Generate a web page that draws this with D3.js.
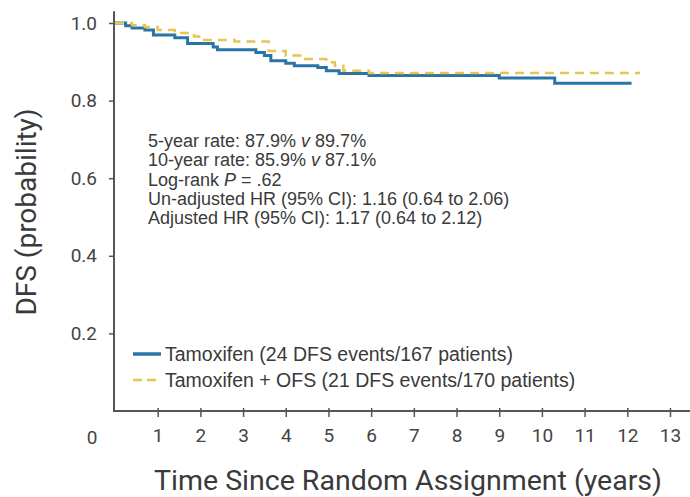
<!DOCTYPE html>
<html>
<head>
<meta charset="utf-8">
<script src="https://cdn.jsdelivr.net/npm/d3@7"></script>
<style>
  body { margin: 0; background: #fff; }
  svg { display: block; }
</style>
</head>
<body>
<svg id="chart" width="690" height="497"></svg>
<script>
// x axis ticks (years) and y axis ticks (probability)
const xTicks = [1, 2, 3, 4, 5, 6, 7, 8, 9, 10, 11, 12, 13];
const yTicks = [0.2, 0.4, 0.6, 0.8, 1.0];

// Tamoxifen step curve: time of each step and DFS after it
const tamTimes = [0, 0.25, 0.4, 0.7, 0.9, 1.4, 1.7, 2.3, 2.4, 3.3, 3.5, 3.65, 4.0, 4.2, 4.75, 4.95, 5.25, 5.95, 9.0, 10.3, 12.1];
const tamDFS   = [1.0, 0.993, 0.987, 0.982, 0.969, 0.962, 0.947, 0.938, 0.931, 0.924, 0.916, 0.903, 0.896, 0.890, 0.885, 0.877, 0.870, 0.865, 0.858, 0.845, 0.845];

// Tamoxifen + OFS step curve
const ofsTimes = [0, 0.4, 0.7, 1.0, 1.4, 1.85, 2.05, 2.8, 3.6, 4.0, 4.4, 4.95, 5.15, 5.35, 5.95, 12.3];
const ofsDFS   = [1.0, 0.994, 0.99, 0.982, 0.974, 0.965, 0.956, 0.952, 0.928, 0.916, 0.907, 0.899, 0.89, 0.877, 0.871, 0.871];

const statLines = [
  "5-year rate: 87.9% v 89.7%",
  "10-year rate: 85.9% v 87.1%",
  "Log-rank P = .62",
  "Un-adjusted HR (95% CI): 1.16 (0.64 to 2.06)",
  "Adjusted HR (95% CI): 1.17 (0.64 to 2.12)"
];
const legendLabels = [
  "Tamoxifen (24 DFS events/167 patients)",
  "Tamoxifen + OFS (21 DFS events/170 patients)"
];

const blue = "#2a74a6";
const yellow = "#e8c452";
const axisColor = "#555";
const textColor = "#3a3a3a";

const svg = d3.select("#chart");

const x = d3.scaleLinear().domain([0, 13]).range([115, 670]);
const y = d3.scaleLinear().domain([0, 1]).range([411, 23]);

// axes
const xAxis = d3.axisBottom(x).tickValues(xTicks).tickSize(6).tickPadding(12);
const gx = svg.append("g")
  .attr("transform", `translate(0, ${y(0)})`)
  .call(xAxis);
gx.select(".domain").remove();
gx.selectAll(".tick line").attr("y1", -3).attr("stroke", axisColor).attr("stroke-width", 1.5);
gx.selectAll(".tick text")
  .attr("font-family", "Roboto, sans-serif")
  .attr("font-size", 19)
  .attr("fill", "#444");

const yAxis = d3.axisLeft(y).tickValues(yTicks).tickFormat(d3.format(".1f")).tickSize(5).tickPadding(12);
const gy = svg.append("g")
  .attr("transform", `translate(${x(0) - 1}, 0)`)
  .call(yAxis);
gy.select(".domain").remove();
gy.selectAll(".tick line").attr("stroke", axisColor).attr("stroke-width", 1.5);
gy.selectAll(".tick text")
  .attr("font-family", "Roboto, sans-serif")
  .attr("font-size", 19)
  .attr("fill", "#444");

// axis lines extend past the data range
svg.append("line")
  .attr("x1", x(0) - 1).attr("x2", x(0) - 1)
  .attr("y1", y(1.03)).attr("y2", y(0) + 1)
  .attr("stroke", axisColor).attr("stroke-width", 2);
svg.append("line")
  .attr("x1", x(0) - 2).attr("x2", 690)
  .attr("y1", y(0)).attr("y2", y(0))
  .attr("stroke", axisColor).attr("stroke-width", 2);

// shared origin label
svg.append("text")
  .attr("x", 92).attr("y", y(0) + 33)
  .attr("text-anchor", "middle")
  .attr("font-family", "Roboto, sans-serif")
  .attr("font-size", 19)
  .attr("fill", "#444")
  .text("0");

// curves
const line = d3.line()
  .x(d => x(d[0]))
  .y(d => y(d[1]))
  .curve(d3.curveStepAfter);

svg.append("path")
  .datum(d3.zip(tamTimes, tamDFS))
  .attr("d", line)
  .attr("fill", "none")
  .attr("stroke", blue)
  .attr("stroke-width", 3);

svg.append("path")
  .datum(d3.zip(ofsTimes, ofsDFS))
  .attr("d", line)
  .attr("fill", "none")
  .attr("stroke", yellow)
  .attr("stroke-width", 2.5)
  .attr("stroke-dasharray", "9,6");

// stats block
const stats = svg.append("text")
  .attr("font-family", "Liberation Sans, Arial, sans-serif")
  .attr("font-size", 18)
  .attr("fill", textColor);
statLines.forEach((s, i) => {
  const t = stats.append("tspan").attr("x", 148).attr("y", 147 + i * 19.3);
  if (s.startsWith("Log-rank")) {
    t.append("tspan").text("Log-rank ");
    t.append("tspan").attr("font-style", "italic").text("P");
    t.append("tspan").text(" = .62");
  } else if (s.includes(" v ")) {
    const parts = s.split(" v ");
    t.append("tspan").text(parts[0] + " ");
    t.append("tspan").attr("font-style", "italic").text("v");
    t.append("tspan").text(" " + parts[1]);
  } else {
    t.text(s);
  }
});

// legend
const legendColors = [blue, yellow];
legendLabels.forEach((lab, i) => {
  const ly = 354 + i * 26;
  svg.append("line")
    .attr("x1", 133).attr("x2", 161)
    .attr("y1", ly).attr("y2", ly)
    .attr("stroke", legendColors[i])
    .attr("stroke-width", i === 0 ? 3.5 : 2.5)
    .attr("stroke-dasharray", i === 0 ? null : "9,5");
  svg.append("text")
    .attr("x", 165).attr("y", ly + 7)
    .attr("font-family", "Liberation Sans, Arial, sans-serif")
    .attr("font-size", 19.5)
    .attr("fill", textColor)
    .text(lab);
});

// axis titles
svg.append("text")
  .attr("x", (154 + 662) / 2).attr("y", 490)
  .attr("text-anchor", "middle")
  .attr("font-family", "Roboto, sans-serif")
  .attr("font-size", 28.5)
  .attr("fill", textColor)
  .text("Time Since Random Assignment (years)");

svg.append("text")
  .attr("transform", `translate(36, 212) rotate(-90)`)
  .attr("text-anchor", "middle")
  .attr("font-family", "Roboto, sans-serif")
  .attr("font-size", 28)
  .attr("fill", textColor)
  .text("DFS (probability)");
</script>
</body>
</html>
